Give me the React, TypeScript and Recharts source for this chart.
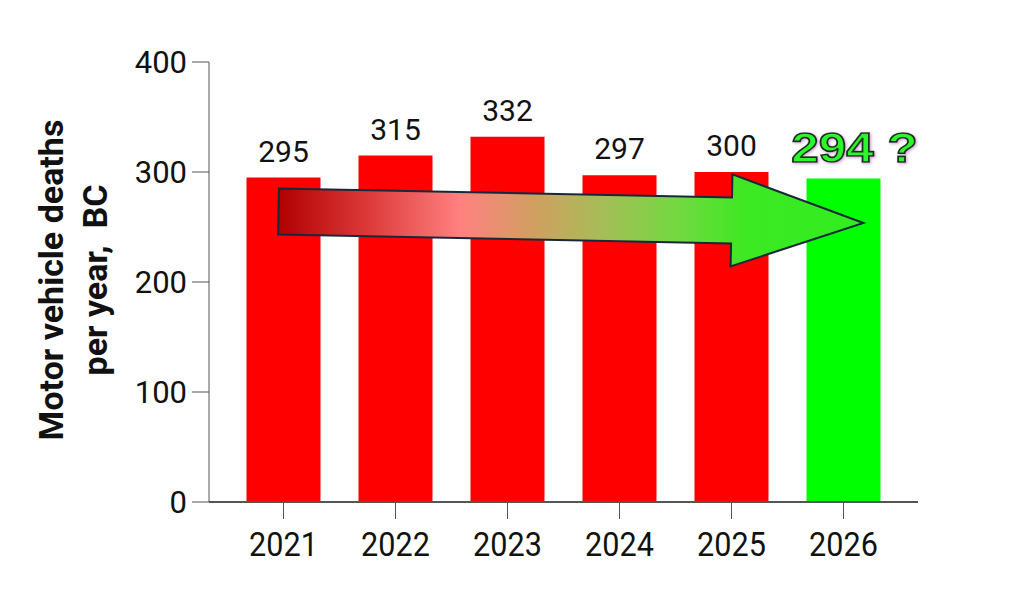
import React from "react";
import { BarChart, Bar, XAxis, YAxis, Cell, LabelList, ReferenceLine } from "recharts";

const years = ["2021", "2022", "2023", "2024", "2025", "2026"];
const deaths = [295, 315, 332, 297, 300, 294];
const barColors = ["#ff0000", "#ff0000", "#ff0000", "#ff0000", "#ff0000", "#00ff00"];
const yTicks = [0, 100, 200, 300, 400];
const forecastLabel = "294 ?";
const yLabelLines = ["Motor vehicle deaths", "per year,\u00a0 BC"];
const arrowStart = { x: "2021", y: 264 };
const arrowEnd = { x: "2026", y: 254 };

const data = years.map((y, i) => ({ year: y, deaths: deaths[i] }));

const XTick = (props: any) => {
  const { x, y, payload } = props;
  return (
    <text
      x={0}
      y={0}
      transform={`translate(${x},${y}) scale(0.9,1)`}
      textAnchor="middle"
      dy="0.71em"
      fontFamily="Roboto"
      fontSize={34}
      fill="#111"
    >
      {payload.value}
    </text>
  );
};

const ValueLabel = (props: any) => {
  const { x, y, width, value, index } = props;
  const cx = x + width / 2;
  if (index === years.length - 1) {
    return (
      <text
        x={0}
        y={0}
        transform={`translate(${cx + 11},${y - 17}) scale(1.15,1)`}
        textAnchor="middle"
        fontFamily="Liberation Sans, Arial, sans-serif"
        fontWeight="bold"
        fontSize={43}
        fill="#2cf82c"
        stroke="#163016"
        strokeWidth={1.6}
        filter="url(#glow)"
      >
        {forecastLabel}
      </text>
    );
  }
  return (
    <text x={cx} y={y - 16} textAnchor="middle" fontFamily="Roboto" fontSize={30} fill="#111">
      {value}
    </text>
  );
};

const ArrowShape = (props: any) => {
  const { x1, y1, x2, y2 } = props;
  if ([x1, y1, x2, y2].some((v) => typeof v !== "number" || isNaN(v))) return null;
  const dx = x2 - x1;
  const dy = y2 - y1;
  const len = Math.sqrt(dx * dx + dy * dy);
  const ux = dx / len;
  const uy = dy / len;
  const nx = -uy;
  const ny = ux;
  const tailBack = 5;
  const tipFwd = 20;
  const headLen = 132;
  const shaftHalf = 23;
  const headHalf = 46;
  const tx = x1 - ux * tailBack;
  const ty = y1 - uy * tailBack;
  const px = x2 + ux * tipFwd;
  const py = y2 + uy * tipFwd;
  const bx = px - ux * headLen;
  const by = py - uy * headLen;
  const pts = [
    [tx + nx * shaftHalf, ty + ny * shaftHalf],
    [bx + nx * shaftHalf, by + ny * shaftHalf],
    [bx + nx * headHalf, by + ny * headHalf],
    [px, py],
    [bx - nx * headHalf, by - ny * headHalf],
    [bx - nx * shaftHalf, by - ny * shaftHalf],
    [tx - nx * shaftHalf, ty - ny * shaftHalf],
  ];
  return (
    <g>
      <defs>
        <linearGradient id="arrowGrad" x1="0" y1="0" x2="1" y2="0">
          <stop offset="0" stopColor="#b00000" />
          <stop offset="0.15" stopColor="#dc3838" />
          <stop offset="0.31" stopColor="#ff8080" />
          <stop offset="0.44" stopColor="#d0a060" />
          <stop offset="0.55" stopColor="#a8bc58" />
          <stop offset="0.68" stopColor="#74d842" />
          <stop offset="0.8" stopColor="#3de822" />
          <stop offset="1" stopColor="#30ee20" />
        </linearGradient>
      </defs>
      <polygon
        points={pts.map((p) => p.join(",")).join(" ")}
        fill="url(#arrowGrad)"
        stroke="#17283a"
        strokeWidth={2}
        strokeLinejoin="miter"
      />
    </g>
  );
};

export default function App() {
  return (
    <div style={{ position: "absolute", left: 0, top: 0, width: 1023, height: 589, background: "#fff" }}>
      <svg width={0} height={0} style={{ position: "absolute" }}>
        <defs>
          <filter id="glow" x="-20%" y="-30%" width="140%" height="160%">
            <feDropShadow dx="1" dy="1" stdDeviation="1.6" floodColor="#c890d0" floodOpacity="0.9" />
          </filter>
        </defs>
      </svg>
      <BarChart
        width={1023}
        height={589}
        data={data}
        margin={{ top: 62, right: 105, bottom: 27, left: 0 }}
      >
        <XAxis
          dataKey="year"
          height={60}
          padding={{ left: 18.5, right: 18.5 }}
          tickSize={17}
          tickMargin={13}
          tick={<XTick />}
          axisLine={{ stroke: "#555", strokeWidth: 2 }}
          tickLine={{ stroke: "#555", strokeWidth: 1 }}
        />
        <YAxis
          width={209}
          domain={[0, 400]}
          ticks={yTicks}
          interval={0}
          tickSize={17}
          tickMargin={5}
          axisLine={{ stroke: "#555", strokeWidth: 1 }}
          tickLine={{ stroke: "#555", strokeWidth: 1 }}
          tick={{ fontFamily: "Roboto", fontSize: 31, fill: "#111" }}
        />
        <Bar dataKey="deaths" barSize={74} isAnimationActive={false}>
          {data.map((d, i) => (
            <Cell key={d.year} fill={barColors[i]} />
          ))}
          <LabelList dataKey="deaths" content={<ValueLabel />} />
        </Bar>
        <ReferenceLine
          segment={[arrowStart, arrowEnd]}
          ifOverflow="visible"
          shape={(p: any) => <ArrowShape {...p} />}
        />
      </BarChart>
      <svg
        width={1023}
        height={589}
        style={{ position: "absolute", left: 0, top: 0, pointerEvents: "none" }}
      >
        <g fontFamily="Roboto" fontWeight="bold" fontSize={34} fill="#111">
          <text transform="rotate(-90)" x={-280} y={63} textAnchor="middle">
            {yLabelLines[0]}
          </text>
          <text transform="rotate(-90)" x={-280} y={107} textAnchor="middle" style={{ whiteSpace: "pre" }}>
            {yLabelLines[1]}
          </text>
        </g>
      </svg>
    </div>
  );
}
